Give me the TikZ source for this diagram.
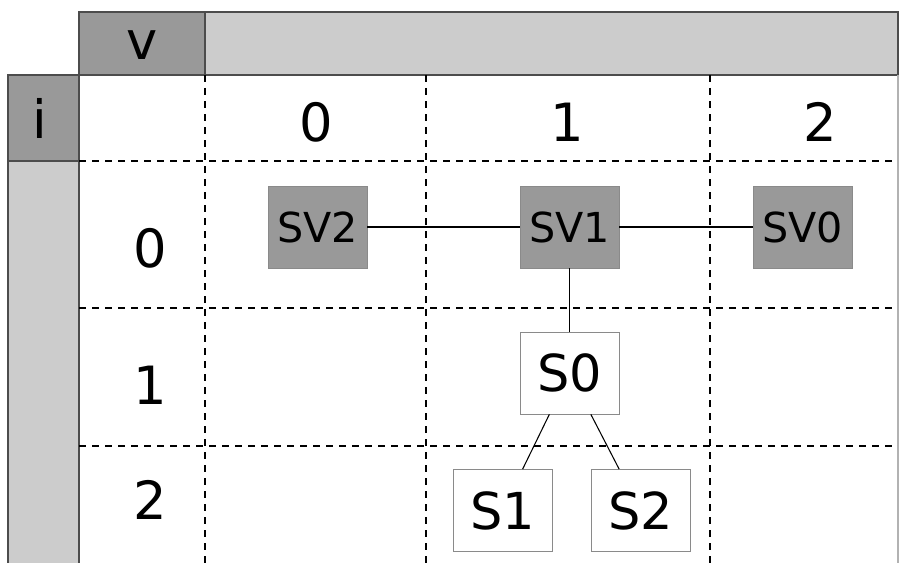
\documentclass[tikz,border=0pt]{standalone}
\usepackage{fontspec}
\setmainfont{DejaVu Sans}
\usetikzlibrary{positioning}

\definecolor{bardark}{HTML}{999999}
\definecolor{barlight}{HTML}{CCCCCC}
\definecolor{boxedge}{HTML}{8A8A8A}

\tikzset{
    bar/.style={draw=black!70, line width=1pt},
    gridline/.style={dashed, dash pattern=on 4pt off 3.4pt, line width=0.8pt},
    svbox/.style={draw=boxedge, fill=bardark, minimum width=1.98cm, minimum height=1.64cm,
        inner sep=0pt, font=\fontsize{23.5}{28}\selectfont},
    sbox/.style={draw=boxedge, fill=white, minimum width=1.98cm, minimum height=1.64cm,
        inner sep=0pt, font=\fontsize{29}{35}\selectfont},
    lbl/.style={font=\fontsize{30}{36}\selectfont},
    link/.style={line width=0.6pt}
}

\begin{document}
\begin{tikzpicture}

    \useasboundingbox (0,0) rectangle (17.98,11.26);
    \clip (0,0) rectangle (17.98,11.26);

    % Header bars
    \draw[bar, fill=barlight] (4.1,9.76) rectangle (17.96,11.02);
    \draw[bar, fill=bardark] (1.58,9.76) rectangle (4.1,11.02);
    \draw[bar, fill=barlight] (0.16,-0.2) rectangle (1.58,8.04);
    \draw[bar, fill=bardark] (0.16,8.04) rectangle (1.58,9.76);
    \draw[black!30, line width=0.6pt] (17.96,9.76) -- (17.96,0);
    \node[lbl] (vhead) at (2.84,10.36) {v};
    \node[lbl] (ihead) at (0.8,8.9) {i};

    % Dashed grid
    \foreach \x in {4.1, 8.52, 14.2} {
        \draw[gridline] (\x,9.76) -- (\x,0);
    }
    \foreach \y in {8.04, 5.1, 2.34} {
        \draw[gridline] (1.58,\y) -- (17.96,\y);
    }

    % Column and row numbers
    \foreach \n/\x in {0/6.32, 1/11.34, 2/16.4} {
        \node[lbl] (col\n) at (\x,8.82) {\n};
    }
    \foreach \n/\y in {0/6.3, 1/3.56, 2/1.26} {
        \node[lbl] (row\n) at (3.0,\y) {\n};
    }

    % Boxes
    \node[svbox] (sv2) at (6.35,6.72) {SV2};
    \node[svbox] (sv1) at (11.39,6.72) {SV1};
    \node[svbox] (sv0) at (16.05,6.72) {SV0};
    \node[sbox] (s0) at (11.39,3.8) {S0};
    \node[sbox] (s1) at (10.05,1.05) {S1};
    \node[sbox] (s2) at (12.81,1.05) {S2};

    \draw[link] (sv2) -- (sv1);
    \draw[link] (sv1) -- (sv0);
    \draw[link] (sv1) -- (s0);
    \draw[link] (s0) -- (s1);
    \draw[link] (s0) -- (s2);

\end{tikzpicture}
\end{document}
